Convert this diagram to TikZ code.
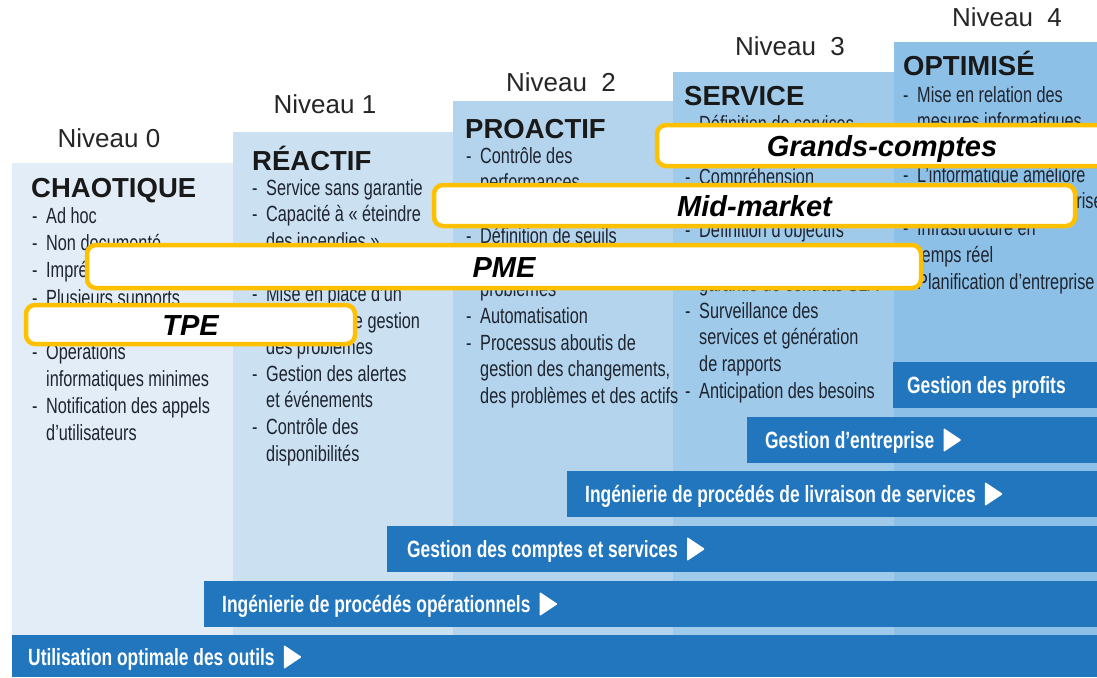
\documentclass[tikz,border=0pt]{standalone}
\usepackage{fontspec}
\setmainfont{Liberation Sans}
\newfontfamily\condf[FakeStretch=0.74]{Liberation Sans}
\newfontfamily\barf[FakeStretch=0.74]{Liberation Sans}
\usetikzlibrary{calc}
\definecolor{cz}{HTML}{E2EDF7}
\definecolor{cu}{HTML}{CBE1F2}
\definecolor{cd}{HTML}{B3D4EC}
\definecolor{ct}{HTML}{9FCAEA}
\definecolor{cq}{HTML}{8CC0E6}
\definecolor{barblue}{HTML}{2176BE}
\definecolor{gold}{HTML}{FFC000}
\definecolor{txt}{HTML}{1E2430}
\newcommand\dashitem[1]{\makebox[14pt][l]{-}#1}
\tikzset{
  lvl/.style={anchor=base, font=\fontsize{26}{30}\selectfont, text=black!85, inner sep=0pt},
  ttl/.style={anchor=base west, font=\fontsize{27.5}{30}\selectfont\bfseries, text=black!90, inner sep=0pt},
  bul/.style={anchor=base west, font=\condf\fontsize{22}{26}\selectfont, text=txt, inner sep=0pt},
  seg/.style={draw=gold, line width=4.5pt, fill=white, rounded corners=9pt, rectangle,
    font=\fontsize{29}{32}\selectfont\bfseries\itshape, text height=21pt, text depth=0pt, inner sep=0pt},
  barlbl/.style={anchor=base west, font=\barf\fontsize{23.5}{26}\selectfont\bfseries, text=white, inner sep=0pt},
  play/.style={fill=white, rounded corners=1pt}
}
\begin{document}
\begin{tikzpicture}[x=1pt,y=-1pt]
\clip (0,0) rectangle (1097,677);
\fill[white] (0,0) rectangle (1097,677);
% columns
\fill[cz] (12,163) rectangle (233,677);
\fill[cu] (233,132) rectangle (453,677);
\fill[cd] (453,101) rectangle (673,677);
\fill[ct] (673,72) rectangle (894,677);
\fill[cq] (894,42) rectangle (1097,677);
% level labels
\node[lvl] (n0) at (109,147) {Niveau 0};
\node[lvl] (n1) at (325,113) {Niveau 1};
\node[lvl] (n2) at (561,91) {Niveau\ \ 2};
\node[lvl] (n3) at (790,56) {Niveau\ \ 3};
\node[lvl] (n4) at (1007,27) {Niveau\ \ 4};
% titles
\node[ttl] (t0) at (31,197) {CHAOTIQUE};
\node[ttl] (t1) at (252,170) {RÉACTIF};
\node[ttl] (t2) at (465,138) {PROACTIF};
\node[ttl] (t3) at (684,105) {SERVICE};
\node[ttl] (t4) at (903,75) {OPTIMISÉ};
% column 0
\node[bul] (a0) at (32,223) {\dashitem{Ad hoc}};
\node[bul] (a1) at (32,250) {\dashitem{Non documenté}};
\node[bul] (a2) at (32,277) {\dashitem{Imprévisible}};
\node[bul] (a3) at (32,305) {\dashitem{Plusieurs supports}};
\node[bul] (a5) at (32,359) {\dashitem{Opérations}};
\node[bul] (a6) at (46,386) {informatiques minimes};
\node[bul] (a7) at (32,413) {\dashitem{Notification des appels}};
\node[bul] (a8) at (46,440) {d’utilisateurs};
% column 1
\node[bul] (b0) at (252,195) {\dashitem{Service sans garantie}};
\node[bul] (b1) at (252,221.6) {\dashitem{Capacité à «~éteindre}};
\node[bul] (b2) at (266,248.2) {des incendies~»};
\node[bul] (b4) at (252,301.4) {\dashitem{Mise en place d’un}};
\node[bul] (b5) at (266,328) {processus de gestion};
\node[bul] (b6) at (266,354.6) {des problèmes};
\node[bul] (b7) at (252,381.2) {\dashitem{Gestion des alertes}};
\node[bul] (b8) at (266,407.8) {et événements};
\node[bul] (b9) at (252,434.4) {\dashitem{Contrôle des}};
\node[bul] (b10) at (266,461) {disponibilités};
% column 2
\node[bul] (c0) at (466,163) {\dashitem{Contrôle des}};
\node[bul] (c1) at (480,189.7) {performances};
\node[bul] (c3) at (466,243) {\dashitem{Définition de seuils}};
\node[bul] (c5) at (480,296.5) {problèmes};
\node[bul] (c6) at (466,323) {\dashitem{Automatisation}};
\node[bul] (c7) at (466,350) {\dashitem{Processus aboutis de}};
\node[bul] (c8) at (480,376.6) {gestion des changements,};
\node[bul] (c9) at (480,403) {des problèmes et des actifs};
% column 3
\node[bul] (d0) at (685,131) {\dashitem{Définition de services}};
\node[bul] (d2) at (685,184.4) {\dashitem{Compréhension}};
\node[bul] (d4) at (685,237.8) {\dashitem{Définition d’objectifs}};
\node[bul] (d6) at (699,291.2) {garantie de contrats SLA};
\node[bul] (d7) at (685,318) {\dashitem{Surveillance des}};
\node[bul] (d8) at (699,344.6) {services et génération};
\node[bul] (d9) at (699,371.3) {de rapports};
\node[bul] (d10) at (685,398) {\dashitem{Anticipation des besoins}};
% column 4
\node[bul] (e0) at (903,102) {\dashitem{Mise en relation des}};
\node[bul] (e1) at (917,128.7) {mesures informatiques};
\node[bul] (e3) at (903,182) {\dashitem{L’informatique améliore}};
\node[bul] (e4) at (917,208.8) {les stratégies d’entreprise};
\node[bul] (e5) at (903,235.5) {\dashitem{Infrastructure en}};
\node[bul] (e6) at (917,262) {temps réel};
\node[bul] (e7) at (903,289) {\dashitem{Planification d’entreprise}};
% blue bars
\fill[barblue] (893,362) rectangle (1097,408);
\fill[barblue] (747,417) rectangle (1097,463);
\fill[barblue] (567,471) rectangle (1097,517);
\fill[barblue] (387,526) rectangle (1097,572);
\fill[barblue] (204,581) rectangle (1097,627);
\fill[barblue] (12,635) rectangle (1097,677);
\node[barlbl] (p1) at (907,393) {Gestion des profits};
\node[barlbl] (p2) at (765,448) {Gestion d’entreprise};
\node[barlbl] (p3) at (585,502) {Ingénierie de procédés de livraison de services};
\node[barlbl] (p4) at (407,557) {Gestion des comptes et services};
\node[barlbl] (p5) at (222,612) {Ingénierie de procédés opérationnels};
\node[barlbl] (p6) at (28,665) {Utilisation optimale des outils};
\foreach \p in {p2,p3,p4,p5,p6}{
  \fill[play] ($(\p.base east)+(9,-20)$) -- ++(18,12) -- ++(-18,12) -- cycle;
}
% segment boxes
\node[seg, minimum width=450pt, minimum height=41pt] (gc) at (882,145.5) {Grands-comptes};
\node[seg, minimum width=641pt, minimum height=41pt] (mm) at (754.5,205.5) {Mid-market};
\node[seg, minimum width=834pt, minimum height=43pt] (pme) at (504,266.5) {PME};
\node[seg, minimum width=329pt, minimum height=39pt] (tpe) at (190.5,324.5) {TPE};
\end{tikzpicture}
\end{document}
